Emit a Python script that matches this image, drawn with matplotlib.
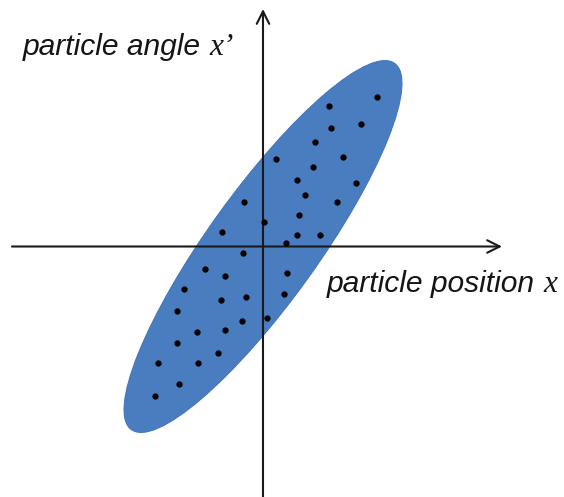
import matplotlib
matplotlib.use("Agg")
import matplotlib.pyplot as plt
from matplotlib.patches import Ellipse

# Particle phase-space samples (position x, angle x')
pos_x = [11.37, 6.63, 9.83, 6.80, 5.20, 1.27, 8.03, 4.97, 3.40, 9.30,
         4.23, -1.93, 7.37, 3.63, 0.13, -4.13, 3.37, 5.70, 2.27, -2.03,
         -5.80, -3.80, 2.37, -7.90, -4.23, -1.70, 2.10, -8.60, -2.13, 0.37,
         -6.57, -3.80, -8.60, -4.50, -10.50, -6.50, -8.40, -10.80]
angle_xp = [14.98, 14.08, 12.25, 11.82, 10.48, 8.72, 8.98, 7.92, 6.65, 6.32,
            5.15, 4.45, 4.45, 3.18, 2.42, 1.45, 1.12, 1.12, 0.30, -0.62,
            -2.25, -2.95, -2.68, -4.22, -5.38, -5.08, -4.75, -6.48, -7.45, -7.12,
            -8.52, -8.38, -9.62, -10.62, -11.65, -11.68, -13.75, -14.95]

# Emittance ellipse parameters
ell_width = 45.1
ell_height = 11.0
ell_angle = 54.3

xlabel_text = "particle position"
ylabel_text = "particle angle"

fig = plt.figure(figsize=(5.64, 4.97), dpi=100)
ax = fig.add_axes([0, 0, 1, 1])
ax.set_xlim(-26.3, 30.1)
ax.set_ylim(-25.05, 24.65)
ax.set_aspect("equal")
ax.axis("off")

ax.add_patch(Ellipse((0, 0), ell_width, ell_height, angle=ell_angle,
                     facecolor="#4A7CC0", edgecolor="#4277BE", lw=0.8, zorder=1))
ax.plot(pos_x, angle_xp, "o", color="black", ms=3.5, zorder=3)

arrow_kw = dict(arrowstyle="->,head_length=0.9,head_width=0.45", color="#1a1a1a", lw=1.5,
                shrinkA=0, shrinkB=0)
ax.annotate("", xy=(23.9, 0), xytext=(-25.1, 0), arrowprops=arrow_kw, zorder=2)
ax.annotate("", xy=(0, 23.75), xytext=(0, -25.05), arrowprops=arrow_kw, zorder=2)

fs = 21.6
sans = ["Liberation Sans", "DejaVu Sans"]
serif = ["Liberation Serif", "DejaVu Serif"]
t1 = ax.text(-24.0, 19.15, ylabel_text, fontsize=fs, style="italic", family=sans,
             va="baseline", ha="left", color="#151515")
t2 = ax.text(6.4, -4.55, xlabel_text, fontsize=fs, style="italic", family=sans,
             va="baseline", ha="left", color="#151515")

fig.canvas.draw()
r = fig.canvas.get_renderer()
inv = ax.transData.inverted()
for t, lab, y in [(t1, "x\u2019", 19.15), (t2, "x", -4.55)]:
    bb = t.get_window_extent(r)
    xr = inv.transform((bb.x1, bb.y0))[0]
    ax.text(xr + 0.8, y, lab, fontsize=fs + 1, style="italic", family=serif,
            va="baseline", ha="left", color="#151515")

fig.savefig("out.png", dpi=100)
